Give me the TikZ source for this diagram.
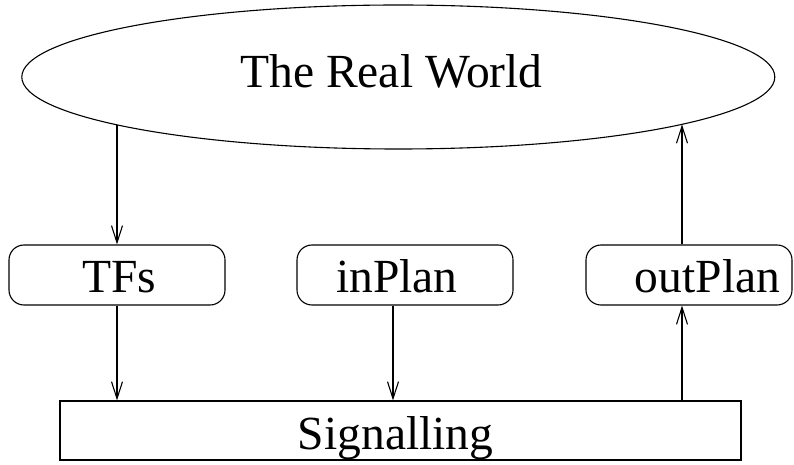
\documentclass[tikz,border=0pt]{standalone}
\usepackage{fontspec}
\setmainfont{Liberation Serif}
\usetikzlibrary{arrows.meta,shapes.geometric}
\begin{document}
\begin{tikzpicture}[x=1bp,y=-1bp, line width=1.1bp,
  lbl/.style={font=\fontsize{47.7}{57}\selectfont, inner sep=0, anchor=base},
  rbox/.style={draw, rectangle, rounded corners=15bp, inner sep=0, minimum height=60bp},
  sbox/.style={draw, rectangle, inner sep=0},
  arr/.style={-{Straight Barb[length=17bp,width=11bp]}}]
\useasboundingbox (0,0) rectangle (794,465);
% shapes
\node[draw, ellipse, inner sep=0, minimum width=753bp, minimum height=144bp] (world) at (398.3,77) {};
\node[rbox, minimum width=216bp] (tfs) at (117,275) {};
\node[rbox, minimum width=216bp] (inplan) at (405,275) {};
\node[rbox, minimum width=206bp] (outplan) at (689,275) {};
\node[sbox, minimum width=681bp, minimum height=59bp] (sig) at (400.5,430.5) {};
% texts
\node[lbl] (tworld) at (391.5,88) {The Real World};
\node[lbl] (ttfs) at (119,293) {TFs};
\node[lbl] (tinplan) at (397,293) {inPlan};
\node[lbl] (toutplan) at (707.5,293) {outPlan};
\node[lbl] (tsig) at (395.6,449) {Signalling};
% connector points
\coordinate (w1) at (117,125);
\coordinate (w2) at (682,124.4);
\coordinate (xa) at (393,0);
\coordinate (xb) at (682,0);
% connectors
\draw[arr] (w1) -- (tfs.north);
\draw[arr] (tfs.south) -- (sig.north -| tfs.south);
\draw[arr] (inplan.south -| xa) -- (sig.north -| xa);
\draw[arr] (sig.north -| xb) -- (outplan.south -| xb);
\draw[arr] (outplan.north -| xb) -- (w2);
\end{tikzpicture}
\end{document}
